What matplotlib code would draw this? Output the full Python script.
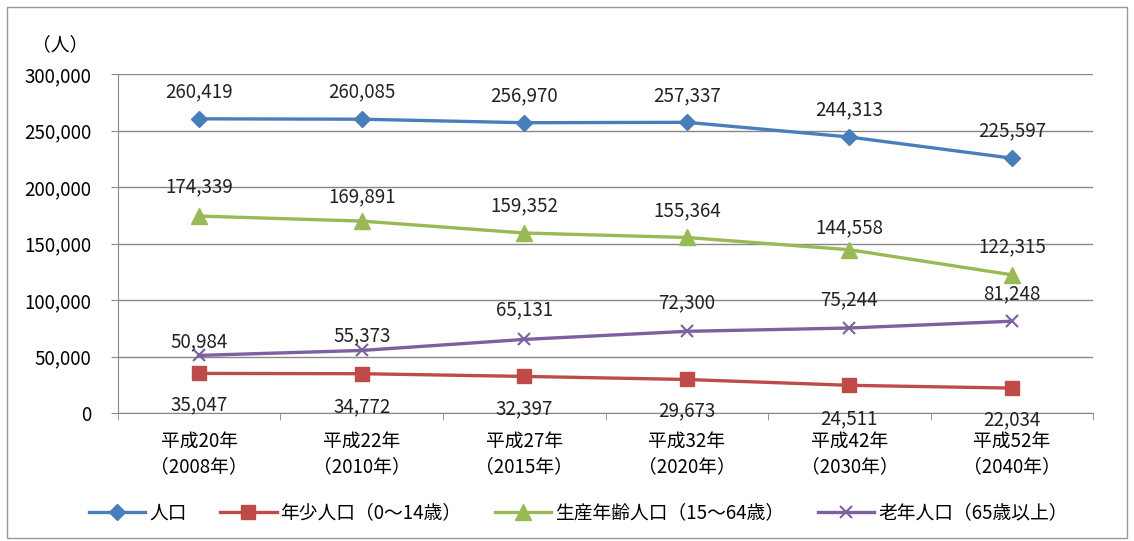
import matplotlib
matplotlib.use("Agg")
import matplotlib.pyplot as plt
from matplotlib.patches import Rectangle

plt.rcParams['font.family'] = ['Noto Sans CJK JP', 'DejaVu Sans']

# データ
categories = ["平成20年\n（2008年）", "平成22年\n（2010年）", "平成27年\n（2015年）",
              "平成32年\n（2020年）", "平成42年\n（2030年）", "平成52年\n（2040年）"]
total = [260419, 260085, 256970, 257337, 244313, 225597]
young = [35047, 34772, 32397, 29673, 24511, 22034]
working = [174339, 169891, 159352, 155364, 144558, 122315]
elderly = [50984, 55373, 65131, 72300, 75244, 81248]

names = ["人口", "年少人口（0～14歳）", "生産年齢人口（15～64歳）", "老年人口（65歳以上）"]

FS = 13.5

fig = plt.figure(figsize=(11.34, 5.41), dpi=100)
ax = fig.add_axes([0.104, 0.2366, 0.860, 0.6264])

x = list(range(len(categories)))
ax.plot(x, total, color="#4A7EBB", lw=2.4, marker="D", ms=8, label=names[0])
ax.plot(x, young, color="#BE4B48", lw=2.4, marker="s", ms=10, label=names[1])
ax.plot(x, working, color="#98B954", lw=2.4, marker="^", ms=11, label=names[2])
ax.plot(x, elderly, color="#7D60A0", lw=2.4, marker="x", ms=9, mew=1.5, label=names[3])

# データラベル (オフセットはピクセル→ポイント)
def labels(vals, offs):
    for i, v in enumerate(vals):
        ax.annotate(f"{v:,}", (x[i], v), xytext=(0, offs[i] * 0.72), textcoords="offset points",
                    ha="center", va="center", fontsize=FS, color="#222222")

labels(total, [27] * 6)
labels(working, [29, 24, 27, 27, 22, 28])
labels(elderly, [14, 15, 30, 29, 28, 27])
labels(young, [-31, -33, -32, -31, -33, -32])

ax.set_xlim(-0.5, 5.5)
ax.set_ylim(0, 300000)
ax.set_yticks(range(0, 300001, 50000))
ax.set_yticklabels([f"{v:,}" for v in range(0, 300001, 50000)], fontsize=FS)
ax.set_xticks(x)
ax.set_xticklabels(categories, fontsize=FS, linespacing=1.25)
ax.set_xticks([i - 0.5 for i in range(7)], minor=True)
ax.tick_params(axis="x", which="major", length=0, pad=13)
ax.tick_params(axis="x", which="minor", length=5, color="#888888")
ax.tick_params(axis="y", length=5, color="#888888", pad=14)
ax.grid(axis="y", color="#888888", lw=1)
ax.set_axisbelow(True)
for s in ["top", "right"]:
    ax.spines[s].set_visible(False)
ax.spines["left"].set_color("#888888")
ax.spines["bottom"].set_color("#888888")

fig.text(0.053, 0.917, "（人）", fontsize=FS, ha="center", va="center")

fig.legend(loc="center", bbox_to_anchor=(0.51, 0.052), ncol=4, frameon=False,
           fontsize=FS, handlelength=3, columnspacing=1.8, handletextpad=0.2)

fig.patches.append(Rectangle((0.006, 0.005), 0.988, 0.982, transform=fig.transFigure,
                             fill=False, ec="#999999", lw=1))

fig.savefig("out.png", dpi=100)
